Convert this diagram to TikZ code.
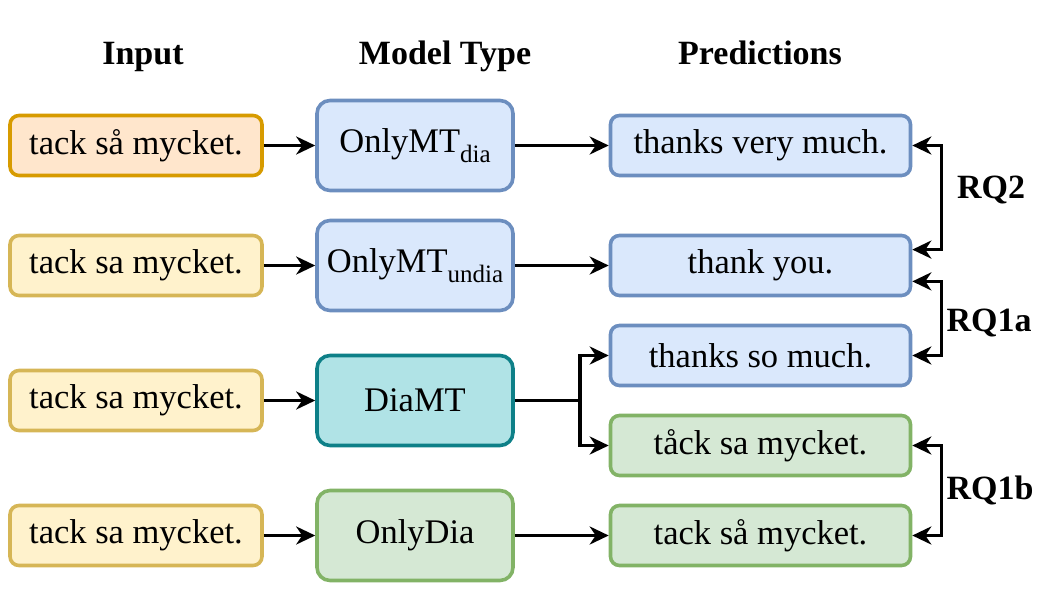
\documentclass[tikz,border=0pt]{standalone}
\usepackage{fontspec}
\setmainfont{Liberation Serif}
\usetikzlibrary{arrows.meta,calc}
\definecolor{orangeF}{HTML}{FFE6CC}\definecolor{orangeD}{HTML}{D79B00}
\definecolor{yellowF}{HTML}{FFF2CC}\definecolor{yellowD}{HTML}{D6B656}
\definecolor{blueF}{HTML}{DAE8FC}\definecolor{blueD}{HTML}{6C8EBF}
\definecolor{tealF}{HTML}{B0E3E6}\definecolor{tealD}{HTML}{0E8088}
\definecolor{greenF}{HTML}{D5E8D4}\definecolor{greenD}{HTML}{82B366}
\begin{document}
\begin{tikzpicture}[x=1pt,y=-1pt,
  every node/.style={font=\fontsize{34.5}{40}\selectfont, inner sep=0pt},
  box/.style={draw, rounded corners=9pt, line width=3.6pt, minimum height=60pt},
  inbox/.style={box, minimum width=252pt},
  modbox/.style={box, rounded corners=13pt, minimum width=196pt, minimum height=90pt},
  predbox/.style={box, minimum width=300pt},
  hdr/.style={font=\fontsize{34}{40}\selectfont\bfseries, anchor=base},
  rq/.style={font=\fontsize{34}{40}\selectfont\bfseries},
  tip/.tip={Stealth[length=19pt,width=18pt,inset=6pt]},
  arr/.style={line width=3.6pt, -tip},
  darr/.style={line width=3.6pt, tip-tip}
]
\useasboundingbox (0,0) rectangle (1062,591);
\newcommand{\sub}[1]{\raisebox{-0.27em}{\fontsize{25}{25}\selectfont #1}}

\node[hdr] (h1) at (143,65) {Input};
\node[hdr] (h2) at (445,65) {Model Type};
\node[hdr] (h3) at (760,65) {Predictions};

\node[inbox, fill=orangeF, draw=orangeD] (i1) at (136,145.5) {tack så mycket.};
\node[inbox, fill=yellowF, draw=yellowD] (i2) at (136,265.5) {tack sa mycket.};
\node[inbox, fill=yellowF, draw=yellowD] (i3) at (136,400.5) {tack sa mycket.};
\node[inbox, fill=yellowF, draw=yellowD] (i4) at (136,535.5) {tack sa mycket.};

\node[modbox, fill=blueF, draw=blueD] (m1) at (415,145.5) {OnlyMT\sub{dia}};
\node[modbox, fill=blueF, draw=blueD] (m2) at (415,265.5) {OnlyMT\sub{undia}};
\node[modbox, fill=tealF, draw=tealD] (m3) at (415,400.5) {DiaMT};
\node[modbox, fill=greenF, draw=greenD] (m4) at (415,535.5) {OnlyDia};

\node[predbox, fill=blueF, draw=blueD] (p1) at (760.5,145.5) {thanks very much.};
\node[predbox, fill=blueF, draw=blueD] (p2) at (760.5,265.5) {thank you.};
\node[predbox, fill=blueF, draw=blueD] (p3) at (760.5,355.5) {thanks so much.};
\node[predbox, fill=greenF, draw=greenD] (p4) at (760.5,445.5) {tåck sa mycket.};
\node[predbox, fill=greenF, draw=greenD] (p5) at (760.5,535.5) {tack så mycket.};

\draw[arr] (i1) -- (m1);
\draw[arr] (i2) -- (m2);
\draw[arr] (i3) -- (m3);
\draw[arr] (i4) -- (m4);
\draw[arr] (m1) -- (p1);
\draw[arr] (m2) -- (p2);
\draw[arr] (m4) -- (p5);
\coordinate (br) at (580,400.5);
\draw[arr] (m3.east) -- (br) |- (p3.west);
\draw[arr] (br) |- (p4.west);

\coordinate (p2a) at ($(p2.north east)!0.25!(p2.south east)$);
\coordinate (p2b) at ($(p2.north east)!0.75!(p2.south east)$);
\draw[darr] (p1.east) -- ++(29,0) |- (p2a);
\draw[darr] (p2b) -- ++(29,0) |- (p3.east);
\draw[darr] (p4.east) -- ++(29,0) |- (p5.east);

\node[rq] (rq2) at (991,190) {RQ2};
\node[rq] (rq1a) at (989,323) {RQ1a};
\node[rq] (rq1b) at (990,490) {RQ1b};
\end{tikzpicture}
\end{document}
